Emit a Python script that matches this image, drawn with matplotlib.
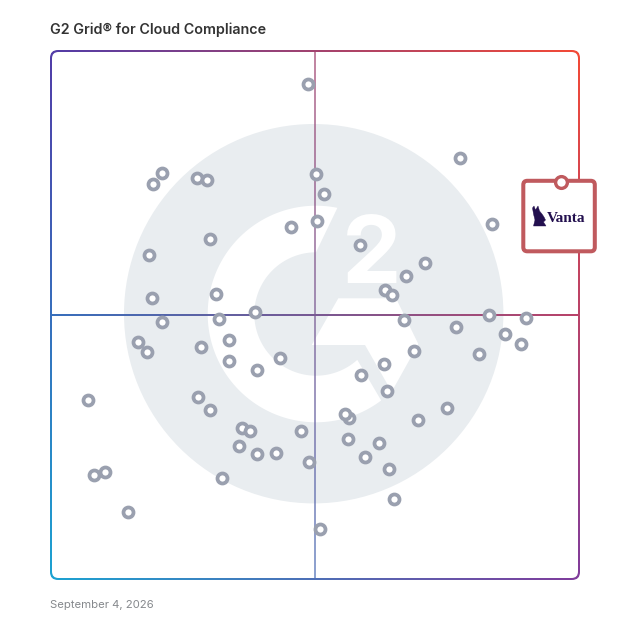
import numpy as np
import matplotlib
matplotlib.use("Agg")
import matplotlib.pyplot as plt
from matplotlib.patches import BoxStyle, Circle, PathPatch, Polygon

# Grid positions (grid is 528 units wide and high)
x_vals = [257, 409, 111, 102, 145.5, 156, 264.7, 273, 441.3, 266, 240.3, 159.3, 308.7,
          97.7, 374.3, 355, 334, 341, 165, 101.3, 204.3, 438, 168.3, 111, 352.7, 404.7,
          474.5, 454.3, 470, 87.3, 96.3, 177.7, 150, 363, 428.3, 178, 229.3, 206, 332.7,
          309.7, 335.7, 37, 146.7, 159.3, 396.3, 297.7, 294, 366.7, 191, 199.3, 250.3,
          297, 328.3, 188.3, 206.3, 225.3, 313.7, 258.3, 338, 43, 54, 171.3, 343, 76.5, 269]
y_vals = [495, 421, 406.3, 395, 401, 399, 405, 385.3, 355.3, 357.7, 352.3, 339.7, 334,
          324.3, 316.3, 303, 289.3, 283.7, 284.7, 281, 267.3, 264.3, 259.7, 257, 259, 252,
          261, 245, 235, 237.3, 226.7, 239.3, 231.7, 228, 225.3, 218, 220.7, 209, 214.7,
          204.3, 188, 179, 182, 168.7, 170.7, 161.3, 165, 158.7, 150.7, 147.7, 148.3,
          139.7, 136.3, 132.7, 125, 125.7, 122.3, 117.3, 110, 104, 107, 101, 79.7, 67, 50]
vanta_x = 509.7
vanta_y = 396.7

title = "G2 Grid® for Cloud Compliance"
date_label = "September 4, 2026"

SIZE = 628
LEFT = 51
TOP = 51
GRID = 528
MID = GRID / 2

plt.rcParams['font.family'] = ['Inter', 'DejaVu Sans']

fig = plt.figure(figsize=(6.28, 6.28), dpi=100, facecolor='white')
ax = fig.add_axes([LEFT / SIZE, (SIZE - LEFT - GRID) / SIZE, GRID / SIZE, GRID / SIZE])
ax.axis('off')


def px(x, y):
    # picture pixels to grid units, for the logo shapes
    return x - LEFT, LEFT + GRID - y


def rounded(x0, y0, x1, y1, r):
    return BoxStyle("Round", pad=0, rounding_size=r)(x0, y0, x1 - x0, y1 - y0, 1)


# gradient used by frame and cross lines: corner colours mixed over the square
top_left = np.array([0x52, 0x3c, 0xa8]) / 255
top_right = np.array([0xf4, 0x4a, 0x36]) / 255
bottom_left = np.array([0x1c, 0xa3, 0xd2]) / 255
bottom_right = np.array([0x80, 0x3c, 0x9c]) / 255
u, v = np.meshgrid(np.linspace(0, 1, 256), np.linspace(0, 1, 256))
u = u[..., None]
v = v[..., None]
grad = (1 - v) * ((1 - u) * top_left + u * top_right) + v * ((1 - u) * bottom_left + u * bottom_right)


def gradient_clipped(path, z, alpha=1.0):
    im = ax.imshow(grad, extent=(-2, GRID + 2, -2, GRID + 2), origin='upper',
                   aspect='auto', zorder=z, alpha=alpha)
    holder = PathPatch(path, transform=ax.transData, fc='none', ec='none', clip_on=False)
    ax.add_patch(holder)
    # image would be cut at the axes box otherwise, and the frame sits on that edge
    im.set_clip_box(fig.bbox)
    im.set_clip_path(holder)
    return im


# frame: gradient rounded box with a white one on top
gradient_clipped(rounded(-1, -1, GRID + 1, GRID + 1, 8), 1)
ax.add_patch(PathPatch(rounded(1, 1, GRID - 1, GRID - 1, 6.5), fc='white', ec='none', zorder=2, clip_on=False))

# G2 watermark
logo_grey = '#e9edf0'
ax.add_patch(Circle((262.7, 265.3), 189.7, fc=logo_grey, ec='none', zorder=3))
t_out = np.radians(np.linspace(78.6, 307, 120))
t_in = np.radians(np.linspace(312, 90, 120))
c_pts = np.vstack([
    np.column_stack([MID + 1 + 108.3 * np.cos(t_out), MID + 1 + 108.3 * np.sin(t_out)]),
    np.column_stack([MID + 1 + 61.7 * np.cos(t_in), MID + 1 + 61.7 * np.sin(t_in)]),
])
ax.add_patch(Polygon(c_pts, closed=True, fc='white', ec='none', zorder=4))
chevron = [px(338.3, 298.3), px(396, 298.3), px(418.3, 344), px(391.7, 391.7),
           px(365, 345), px(311.7, 345)]
ax.add_patch(Polygon(chevron, closed=True, fc='white', ec='none', zorder=4))
two_x, two_y = px(372, 283)
ax.text(two_x, two_y, "2", fontsize=68, fontweight='bold', color='white', ha='center', va='baseline', zorder=4)

# cross lines
gradient_clipped(rounded(MID - 1, 0, MID + 1, GRID, 0.01), 5, alpha=0.65)
gradient_clipped(rounded(0, MID - 1, GRID, MID + 1, 0.01), 5.5)
ax.set_xlim(0, GRID)
ax.set_ylim(0, GRID)

# vendor markers
dots = ax.scatter(x_vals, y_vals, s=52, facecolor='white', edgecolor='#9aa0af', linewidth=2.7, zorder=6, clip_on=False)
dots.set_snap(False)

# highlighted vendor card
card_color = '#c05a5e'
x0, y0 = px(523.3, 251.3)
x1, y1 = px(594.8, 180.8)
ax.add_patch(PathPatch(rounded(x0, y0, x1, y1, 4), fc='white', ec=card_color, lw=2.9, zorder=7, clip_on=False))
ring = ax.scatter([vanta_x], [vanta_y], s=72, facecolor='white', edgecolor=card_color, linewidth=2.4, zorder=8, clip_on=False)
ring.set_snap(False)
llama = [px(*p) for p in [(532.5, 208), (534, 206), (535.5, 210), (538, 206), (539.5, 211), (542, 214),
                          (544, 217), (545.5, 220), (543.5, 222), (546, 226), (533.5, 226), (535, 220), (533.5, 214)]]
ax.add_patch(Polygon(llama, closed=True, fc='#23104f', ec='#23104f', lw=0.3, zorder=8, clip_on=False))
vx, vy = px(566.5, 218)
ax.text(vx, vy, "Vanta", fontsize=11, fontweight='bold', family='Liberation Serif', color='#23104f',
        ha='center', va='center', zorder=8, clip_on=False)

fig.text(50 / SIZE, 1 - 29.5 / SIZE, title, fontsize=10.3, fontweight='semibold', color='#333333', va='center', ha='left')
fig.text(50 / SIZE, 1 - 604.5 / SIZE, date_label, fontsize=8.15, color='#85888c', va='center', ha='left')

fig.savefig('out.png', dpi=100)
